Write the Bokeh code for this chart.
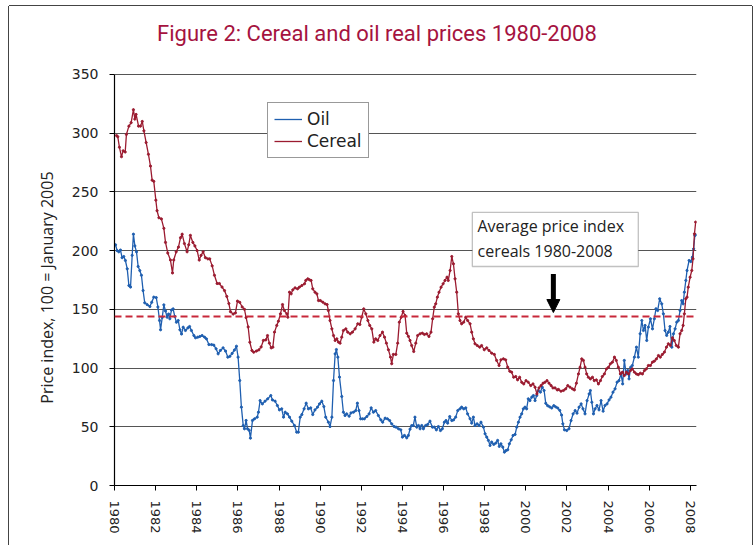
from bokeh.plotting import figure
from bokeh.models import (ColumnDataSource, FixedTicker, Span, Label, BoxAnnotation,
                          Arrow, NormalHead)
from bokeh.embed import file_html
from bokeh.resources import INLINE

# ---------------- data ----------------
oil_dates = [
    1980.05, 1980.13, 1980.21, 1980.29, 1980.37, 1980.45, 1980.53, 1980.62, 1980.70, 1980.78,
    1980.86, 1980.92, 1980.99, 1981.07, 1981.15, 1981.23, 1981.31, 1981.39, 1981.47, 1981.59,
    1981.72, 1981.81, 1981.91, 1982.03, 1982.11, 1982.19, 1982.24, 1982.32, 1982.40, 1982.48,
    1982.56, 1982.63, 1982.69, 1982.77, 1982.85, 1982.93, 1983.01, 1983.10, 1983.18, 1983.26,
    1983.34, 1983.45, 1983.57, 1983.65, 1983.74, 1983.86, 1983.94, 1984.05, 1984.15, 1984.26,
    1984.38, 1984.47, 1984.59, 1984.72, 1984.83, 1984.94, 1985.04, 1985.15, 1985.28, 1985.40,
    1985.51, 1985.61, 1985.72, 1985.83, 1985.93, 1986.01, 1986.09, 1986.17, 1986.26, 1986.32,
    1986.40, 1986.47, 1986.55, 1986.61, 1986.71, 1986.81, 1986.94,
    1987.00, 1987.08, 1987.19, 1987.32, 1987.45, 1987.60, 1987.68, 1987.81, 1987.92, 1988.02,
    1988.13, 1988.22, 1988.30, 1988.41, 1988.51, 1988.62, 1988.75, 1988.86, 1988.94, 1989.03,
    1989.11, 1989.22, 1989.32, 1989.43, 1989.54, 1989.64, 1989.75, 1989.87, 1989.97, 1990.08,
    1990.18, 1990.27, 1990.40, 1990.48, 1990.57, 1990.65, 1990.73, 1990.79, 1990.86, 1990.94,
    1991.05, 1991.13, 1991.21, 1991.29, 1991.41, 1991.50, 1991.62, 1991.73, 1991.81, 1991.89,
    1991.97, 1992.06, 1992.15, 1992.27, 1992.38, 1992.48, 1992.59, 1992.70, 1992.83, 1992.95,
    1993.04, 1993.16, 1993.27, 1993.38, 1993.48, 1993.60, 1993.69, 1993.81, 1993.92, 1994.00,
    1994.10, 1994.21, 1994.29,
    1994.37, 1994.45, 1994.53, 1994.61, 1994.70, 1994.78, 1994.86, 1994.94, 1995.02, 1995.13,
    1995.23, 1995.34, 1995.46, 1995.55, 1995.65, 1995.75, 1995.85, 1995.94, 1996.04, 1996.12,
    1996.20, 1996.30, 1996.40, 1996.49, 1996.59, 1996.69, 1996.80, 1996.88, 1996.98, 1997.08,
    1997.17, 1997.29, 1997.37, 1997.45, 1997.53, 1997.63, 1997.73, 1997.82, 1997.94, 1998.02,
    1998.10, 1998.18, 1998.26, 1998.34, 1998.44, 1998.54, 1998.63, 1998.71, 1998.79, 1998.88,
    1998.96, 1999.04, 1999.12, 1999.20, 1999.29, 1999.38, 1999.48, 1999.56, 1999.64, 1999.72,
    1999.80, 1999.88, 1999.96, 2000.04, 2000.12, 2000.20, 2000.29, 2000.37, 2000.45, 2000.53,
    2000.61, 2000.71, 2000.80, 2000.89, 2000.97, 2001.06, 2001.16, 2001.26, 2001.36, 2001.45,
    2001.55, 2001.65, 2001.74,
    2001.80, 2001.88, 2001.99, 2002.10, 2002.20, 2002.30, 2002.40, 2002.49, 2002.59, 2002.69,
    2002.78, 2002.88, 2002.98, 2003.08, 2003.14, 2003.21, 2003.29, 2003.37, 2003.46, 2003.56,
    2003.66, 2003.76, 2003.85, 2003.95, 2004.05, 2004.14, 2004.24, 2004.34, 2004.44, 2004.53,
    2004.63, 2004.71, 2004.79, 2004.88, 2004.96, 2005.02, 2005.10, 2005.18, 2005.28, 2005.38,
    2005.47, 2005.56, 2005.64, 2005.72, 2005.80, 2005.88, 2005.96, 2006.06, 2006.16, 2006.25,
    2006.33, 2006.41, 2006.51, 2006.61, 2006.69, 2006.77, 2006.85, 2006.93, 2007.01, 2007.10,
    2007.18, 2007.26, 2007.34, 2007.42, 2007.50, 2007.58, 2007.65, 2007.71, 2007.78, 2007.84,
    2007.94, 2008.02, 2008.10, 2008.16, 2008.22, 2008.26,
]
oil_index = [
    205, 200, 199, 200.5, 194, 195, 191.6, 184.5, 170.3, 169,
    196, 214, 204, 199, 186.5, 183, 179, 166, 155.6, 154,
    152.4, 156, 160.4, 160, 152, 140.5, 132.6, 143, 153.8, 148.6,
    143.3, 146, 142, 149.4, 150.4, 144, 139, 140.5, 132.6, 129,
    134.8, 132, 134.2, 135.4, 132, 127.7, 125.8, 126.3, 126.9, 127.7,
    126.3, 124.9, 120, 120, 119.5, 116.4, 112.1, 115, 117.2, 114.5,
    109.3, 110, 112.5, 115.3, 118.6, 109.3, 89.4, 66.7, 51, 48.3,
    55.4, 48.3, 47, 40.3, 55.4, 56.8, 58.2,
    62.4, 72.3, 69.5, 71.8, 73.8, 76.6, 72.9, 71.8, 68.1, 64.4,
    65.3, 58.2, 62.4, 61, 58.2, 54.8, 51.1, 45.4, 45.4, 58.2,
    60.4, 65.3, 70.1, 65.3, 66.1, 60.4, 64.4, 66.7, 69.5, 71.8,
    67.2, 58.2, 53.9, 50.2, 58.2, 89.4, 112.1, 115.8, 109.3, 92.3,
    75.8, 62.4, 59.6, 61, 59, 61.8, 62.4, 63.8, 70.1, 63.8,
    56.8, 56.8, 56.8, 58.7, 61, 66.1, 62.4, 63.8, 59.6, 55.9,
    53.9, 57.3, 56.8, 55.3, 52.5, 50.2, 49.7, 48.3, 47.4, 41.2,
    42.6, 40.6, 42.6,
    48, 51, 51.1, 58.2, 49.7, 51.1, 48.3, 51.1, 48.3, 51.1,
    52, 54.8, 49.7, 49.7, 47.4, 50.2, 46.8, 48.3, 53.9, 55.3,
    53.1, 58.7, 55.3, 55.9, 58.2, 63.8, 65.3, 66.7, 65.3, 66.1,
    61, 56.8, 53.1, 58.2, 51.1, 52.5, 51.1, 53.9, 49.7, 44,
    41.2, 38.4, 34.1, 37, 35, 36.1, 38.4, 33.3, 35.5, 32.7,
    28.4, 29.8, 30.4, 35.5, 38.9, 42.6, 43.5, 49.7, 53.9, 58.2,
    61, 65.3, 66.7, 65.3, 73.8, 72.3, 75.2, 76.6, 72.3, 76.6,
    80.9, 79.5, 83.7, 80.9, 70, 68, 67, 66, 68, 67,
    66, 64, 60,
    52.5, 47.4, 46.8, 48.3, 55.3, 61, 63.8, 61.6, 66.7, 69.5,
    65.3, 61, 72.3, 78, 80.9, 70.9, 61, 65.3, 68.1, 64.4,
    72.3, 63.3, 68.1, 69.5, 72.9, 75.2, 79.5, 82.3, 88, 89.3,
    95, 86.5, 106.5, 95, 97.9, 90.8, 100.7, 102.2, 109.3, 117.8,
    109.3, 129.2, 140.5, 132, 136.3, 123.5, 134.8, 142, 133.4, 142,
    150.5, 149, 159, 154.7, 146.2, 132, 127.8, 130.6, 135.4, 117.8,
    129.2, 133.4, 139.1, 140.5, 149, 157.5, 154.7, 164.6, 174.6, 183.1,
    191.6, 190.7, 194.4, 201.5, 212.9, 213.5,
]

cereal_dates = [
    1980.10, 1980.16, 1980.24, 1980.34, 1980.42, 1980.52, 1980.58, 1980.70, 1980.81, 1980.92,
    1980.99, 1981.05, 1981.17, 1981.26, 1981.35, 1981.43, 1981.54, 1981.65, 1981.75, 1981.83,
    1981.91, 1982.01, 1982.07, 1982.16, 1982.28, 1982.40, 1982.48, 1982.59, 1982.72, 1982.82,
    1982.88, 1983.00, 1983.11, 1983.21, 1983.29, 1983.40, 1983.53, 1983.61, 1983.69, 1983.81,
    1983.91, 1984.02, 1984.12, 1984.21, 1984.31, 1984.42, 1984.54, 1984.63, 1984.75, 1984.86,
    1984.99, 1985.10, 1985.23, 1985.35, 1985.46, 1985.56, 1985.64, 1985.77, 1985.88, 1985.98,
    1986.09, 1986.21, 1986.32, 1986.40, 1986.50, 1986.58, 1986.68, 1986.77, 1986.90, 1987.02,
    1987.13, 1987.24, 1987.36, 1987.44, 1987.53, 1987.62, 1987.70, 1987.78, 1987.89, 1987.97,
    1988.07, 1988.17, 1988.26, 1988.38, 1988.43, 1988.51, 1988.59, 1988.67, 1988.78, 1988.90,
    1988.99, 1989.11, 1989.24, 1989.30, 1989.40, 1989.48, 1989.56, 1989.64, 1989.75, 1989.84,
    1989.92, 1990.01, 1990.13, 1990.24, 1990.34, 1990.40, 1990.48, 1990.57, 1990.65, 1990.73,
    1990.81, 1990.89, 1990.97, 1991.05, 1991.13, 1991.25, 1991.34, 1991.46, 1991.57, 1991.70,
    1991.83, 1991.93, 1992.02, 1992.12, 1992.22, 1992.32, 1992.41, 1992.51, 1992.61, 1992.70,
    1992.80, 1992.91, 1993.03, 1993.13, 1993.22, 1993.32, 1993.42, 1993.48, 1993.56, 1993.68,
    1993.77, 1993.85, 1993.94, 1994.03, 1994.13, 1994.21,
    1994.29, 1994.37, 1994.45, 1994.55, 1994.65, 1994.74, 1994.86, 1994.97, 1995.07, 1995.18,
    1995.29, 1995.39, 1995.47, 1995.55, 1995.62, 1995.70, 1995.78, 1995.88, 1995.98, 1996.07,
    1996.17, 1996.23, 1996.32, 1996.40, 1996.48, 1996.56, 1996.64, 1996.72, 1996.80, 1996.88,
    1996.98, 1997.08, 1997.17, 1997.29, 1997.37, 1997.45, 1997.53, 1997.64, 1997.76, 1997.85,
    1997.98, 1998.10, 1998.21, 1998.34, 1998.47, 1998.58, 1998.70, 1998.79, 1998.91, 1999.02,
    1999.12, 1999.22, 1999.31, 1999.41, 1999.51, 1999.60, 1999.70, 1999.80, 1999.90, 2000.01,
    2000.12, 2000.24, 2000.35, 2000.45, 2000.54, 2000.64, 2000.74, 2000.84, 2000.93, 2001.03,
    2001.13, 2001.23, 2001.32, 2001.42, 2001.53,
    2001.59, 2001.71, 2001.83, 2001.94, 2002.04, 2002.15, 2002.27, 2002.36, 2002.46, 2002.56,
    2002.64, 2002.72, 2002.80, 2002.88, 2002.96, 2003.04, 2003.14, 2003.24, 2003.33, 2003.43,
    2003.53, 2003.63, 2003.72, 2003.82, 2003.92, 2004.02, 2004.11, 2004.21, 2004.31, 2004.40,
    2004.50, 2004.60, 2004.70, 2004.79, 2004.89, 2004.99, 2005.09, 2005.18, 2005.28, 2005.38,
    2005.47, 2005.57, 2005.67, 2005.77, 2005.86, 2005.96, 2006.06, 2006.16, 2006.25, 2006.35,
    2006.45, 2006.54, 2006.64, 2006.74, 2006.84, 2006.93, 2007.03, 2007.13, 2007.22, 2007.32,
    2007.42, 2007.50, 2007.58, 2007.65, 2007.71, 2007.78, 2007.84, 2007.90, 2007.99, 2008.07,
    2008.13, 2008.20, 2008.26,
]
cereal_index = [
    298, 297, 288, 280, 285, 284, 299, 306, 309, 320,
    312, 316, 306, 306, 310, 302, 292, 282, 272, 260,
    259, 243, 234, 228, 227, 219, 207, 198, 192, 181,
    192, 199, 203, 211, 214, 206, 199, 205, 213, 207,
    204, 200, 192, 196, 199, 194, 193, 193, 187, 179,
    172, 172, 169, 166, 161, 155, 148, 146, 147, 157,
    156, 152, 150, 143, 135, 122, 115, 113.5, 114.5, 115.5,
    118, 123.5, 124, 127.7, 121.2, 117.2, 117.8, 130.6, 136.3, 139.9,
    146.2, 154.1, 149, 146.2, 143.3, 164.6, 163.2, 166.6, 168.3, 167.5,
    168.9, 170.3, 171.8, 174.6, 176, 175.2, 174.6, 167.5, 164.6, 163.2,
    157.5, 157.5, 156.1, 154.7, 154.1, 149, 140.5, 133.4, 127.7, 123.5,
    124.9, 122.1, 121.2, 126.3, 132, 133.4, 130.6, 129.2, 130.6, 133.4,
    137.7, 137.1, 143.3, 150.4, 146.2, 140.5, 136.3, 133.4, 122.1, 124.9,
    123.5, 127.7, 130.6, 126.3, 121.2, 115.6, 109.3, 103.7, 111.6, 111.6,
    121.2, 139.1, 143.3, 148.2, 144.7, 129.7,
    127, 123.5, 119.2, 114.1, 121.2, 127.7, 129.2, 129.7, 128.6, 129.2,
    126.9, 130.6, 142, 151.9, 154.7, 160.4, 164.6, 168.9, 171.8, 174.6,
    177.4, 174.6, 183.1, 195, 188.8, 176, 164.6, 146.2, 140.5, 137.7,
    139.1, 143.3, 140.5, 137.7, 130.6, 124.9, 120.7, 119.2, 117.8, 119.2,
    115.6, 117.2, 115, 112.7, 111.6, 106.5, 102.2, 107, 107.9, 107,
    100.8, 97.3, 96.5, 92.2, 92.8, 90, 92.2, 87.9, 86.5, 89.3,
    87.9, 85.1, 86.5, 83.7, 78, 83.1, 85.1, 87.1, 87.9, 89.3,
    87.1, 85.1, 83.1, 83.1, 81.4,
    81.8, 80.3, 80.9, 82.3, 85.1, 83.7, 82.3, 81.4, 87.1, 95,
    100.7, 107.8, 106.5, 100.7, 95, 92.2, 90.8, 92.2, 89.3, 89.9,
    86.5, 89.3, 92.8, 95, 99.3, 100.7, 103.6, 105, 109.3, 106.5,
    100.7, 95, 96.5, 93.6, 96.5, 95, 97.9, 99.3, 96.5, 95,
    94.4, 95.6, 95, 97.9, 99.3, 102.2, 102.2, 105, 105.9, 107.8,
    110.7, 109.3, 111.6, 113.6, 117.8, 120.7, 119.2, 125.8, 123.5, 119.2,
    117.8, 129.2, 132, 136.3, 146.2, 159, 160.4, 168.9, 177.4, 183.1,
    193, 214.3, 224.3,
]

year_ticks = [1980, 1982, 1984, 1986, 1988, 1990, 1992, 1994, 1996, 1998,
              2000, 2002, 2004, 2006, 2008]
value_ticks = [0, 50, 100, 150, 200, 250, 300, 350]
cereal_average = 144

title_text = "Figure 2: Cereal and oil real prices 1980-2008"
y_label = "Price index, 100 = January 2005"
note_lines = ["Average price index", "cereals  1980-2008"]

OIL_COLOR = "#1f5fb0"
CEREAL_COLOR = "#9b1b30"

# ---------------- figure ----------------
# the plotting frame reaches the top of the canvas so the title can sit inside it;
# the value axis is bounded to 0..350
p = figure(width=743, height=539, output_backend="svg", toolbar_location=None,
           x_range=(1980, 2008.3), y_range=(0, 407.9),
           min_border_left=105, min_border_right=56, min_border_top=0,
           min_border_bottom=60)
p.outline_line_color = None
p.background_fill_color = "white"
p.border_fill_color = "white"
# outer frame of the chart (left, top and right edges)
p.styles = {"margin-left": "9px", "margin-top": "6px",
            "box-shadow": "-1px 0 0 0 #444444, 0 -1px 0 0 #444444, 1px 0 0 0 #444444"}

oil_src = ColumnDataSource(dict(x=oil_dates, y=oil_index))
cer_src = ColumnDataSource(dict(x=cereal_dates, y=cereal_index))

p.line("x", "y", source=oil_src, color=OIL_COLOR, line_width=1.3, legend_label="Oil")
p.scatter("x", "y", source=oil_src, color=OIL_COLOR, size=2.2)
p.line("x", "y", source=cer_src, color=CEREAL_COLOR, line_width=1.3, legend_label="Cereal")
p.scatter("x", "y", source=cer_src, color=CEREAL_COLOR, size=2.2)

p.add_layout(Span(location=cereal_average, dimension="width", line_color="#c8283a",
                  line_width=2, line_dash="7 4"))

# axes
p.xaxis.ticker = FixedTicker(ticks=year_ticks)
p.yaxis.ticker = FixedTicker(ticks=value_ticks)
p.yaxis.bounds = (value_ticks[0], value_ticks[-1])
p.xaxis.major_label_orientation = "vertical"
for ax in (p.xaxis, p.yaxis):
    ax.axis_line_color = "black"
    ax.axis_line_width = 1.2
    ax.major_tick_line_color = "black"
    ax.major_tick_out = 5
    ax.major_tick_in = 0
    ax.minor_tick_line_color = None
    ax.major_label_text_font = "DejaVu Sans"
    ax.major_label_text_color = "#222222"
p.xaxis.major_label_text_font_size = "13px"
p.yaxis.major_label_text_font_size = "14px"
p.xaxis.major_label_standoff = 10
p.yaxis.major_label_standoff = 11
# the axis title is centred on the whole (taller) frame; trailing no-break spaces
# move the visible words down so they sit beside the 0-350 scale
p.yaxis.axis_label = y_label + "\u00a0" * 20
p.yaxis.axis_label_text_font = "Open Sans"
p.yaxis.axis_label_text_font_size = "16px"
p.yaxis.axis_label_text_font_style = "normal"
p.yaxis.axis_label_text_color = "#222222"
p.yaxis.axis_label_standoff = 11

p.xgrid.grid_line_color = None
p.ygrid.grid_line_color = "#555555"
p.ygrid.grid_line_width = 1.2

# legend
lg = p.legend[0]
lg.location = (153, 327)
lg.border_line_color = "#333333"
lg.border_line_width = 1.5
lg.background_fill_color = "white"
lg.background_fill_alpha = 1
lg.label_text_font = "DejaVu Sans"
lg.label_text_font_size = "17px"
lg.label_text_color = "#222222"
lg.glyph_width = 28
lg.label_standoff = 5
lg.padding = 6
lg.spacing = 2
lg.margin = 0

# title
p.add_layout(Label(x=1982.07, y=385, text=title_text, text_baseline="middle",
                   text_font="Roboto", text_font_size="22px", text_color="#a5133f"))

# annotation box with text and arrow
p.add_layout(BoxAnnotation(left=1997.40, right=2005.47, top=232.5, bottom=186.5,
                           fill_color="white", fill_alpha=1, line_color="#333333",
                           line_width=1.3))
p.add_layout(Label(x=1997.65, y=220.6, text=note_lines[0], text_baseline="middle",
                   text_font="Open Sans", text_font_size="16px", text_color="#222222"))
p.add_layout(Label(x=1997.65, y=199.3, text=note_lines[1], text_baseline="middle",
                   text_font="Open Sans", text_font_size="16px", text_color="#222222"))
p.add_layout(Arrow(end=NormalHead(size=13, fill_color="black", line_color="black"),
                   x_start=2001.34, y_start=180, x_end=2001.34, y_end=147.3,
                   line_color="black", line_width=5))

open("out.html", "w").write(file_html(p, INLINE))
